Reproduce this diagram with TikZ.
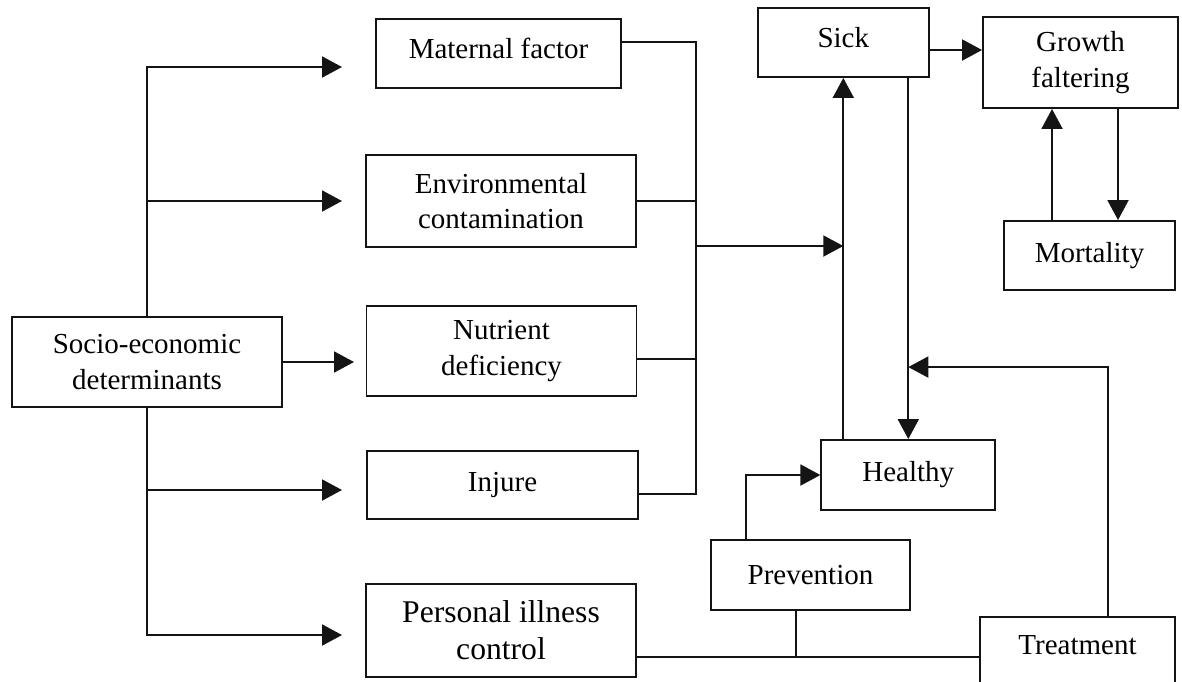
\documentclass[tikz,border=0pt]{standalone}
\usepackage{fontspec}
\setmainfont{Liberation Serif}
\usepackage{tikz}
\usetikzlibrary{calc,arrows.meta}
\definecolor{ink}{HTML}{141414}
\tikzset{
  box/.style={draw=ink, line width=1.1pt, rectangle, align=center, inner sep=2pt,
    font=\fontsize{16.5}{20}\selectfont},
  lnk/.style={draw=ink, line width=1.1pt},
  arr/.style={lnk, -{Triangle[length=0.4cm,width=0.42cm]}},
  lift/.style={text depth=0.2cm}
}

\begin{document}
\begin{tikzpicture}[x=0.02cm, y=-0.02cm]
  \useasboundingbox (0,0) rectangle (1182,681);
  \clip (0,0) rectangle (1182,681);

  % left column
  \node[box, minimum width=5.4cm, minimum height=1.8cm] (socio) at (147,362) {Socio-economic\\determinants};
  \node[box, lift, minimum width=4.9cm, minimum height=1.38cm] (maternal) at (498.5,53.5) {Maternal factor};
  \node[box, minimum width=5.4cm, minimum height=1.84cm] (environ) at (501,201) {Environmental\\contamination};
  \node[box, minimum width=5.4cm, minimum height=1.8cm] (nutrient) at (501.5,351) {Nutrient\\deficiency};
  \node[box, minimum width=5.42cm, minimum height=1.36cm] (injure) at (502.5,485) {Injure};
  \node[box, minimum width=5.4cm, minimum height=1.86cm, font=\fontsize{18}{21}\selectfont] (personal) at (501,630.5) {Personal illness\\control};

  % right part
  \node[box, lift, minimum width=3.42cm, minimum height=1.38cm] (sick) at (843.3,42.5) {Sick};
  \node[box, minimum width=3.9cm, minimum height=1.82cm] (growth) at (1080.5,62.5) {Growth\\faltering};
  \node[box, minimum width=3.42cm, minimum height=1.38cm] (mortality) at (1089.5,255.5) {Mortality};
  \node[box, minimum width=3.48cm, minimum height=1.4cm] (healthy) at (908.3,475) {Healthy};
  \node[box, minimum width=3.98cm, minimum height=1.4cm] (prevention) at (810.5,575) {Prevention};
  \node[box, text depth=0.48cm, minimum width=3.9cm, minimum height=1.6cm] (treatment) at (1077.5,657) {Treatment};

  % trunk from the determinants
  \coordinate (t1) at (342,67);
  \coordinate (t2) at (342,201);
  \coordinate (t3) at (354,362);
  \coordinate (t4) at (342,490);
  \coordinate (t5) at (342,635);
  \draw[arr] (socio.north) |- (t1);
  \draw[arr] (socio.north |- t2) -- (t2);
  \draw[arr] (socio.east) -- (t3);
  \draw[arr] (socio.south |- t4) -- (t4);
  \draw[arr] (socio.south) |- (t5);

  % collector into sick
  \coordinate (bus) at (696,246);
  \coordinate (mat) at ([yshift=0.23cm]maternal.east);
  \coordinate (nut) at ([yshift=-0.16cm]nutrient.east);
  \coordinate (inj) at ([yshift=-0.18cm]injure.east);
  \draw[lnk] (mat) -| (bus |- inj) -- (inj);
  \draw[lnk] (environ.east) -- (environ.east -| bus);
  \draw[lnk] (nut) -- (nut -| bus);
  \draw[arr] (bus) -- (bus -| sick.south);

  % sick / healthy loop
  \draw[arr] (healthy.north -| sick.south) -- (sick.south);
  \draw[arr] (sick.south -| healthy.north) -- (healthy.north);

  \coordinate (sg) at ([yshift=-0.15cm]sick.east);
  \draw[arr] (sg) -- (sg -| growth.west);

  \coordinate (mup) at ([xshift=-0.75cm]mortality.north);
  \coordinate (gdn) at ([xshift=0.75cm]growth.south);
  \draw[arr] (mup) -- (mup |- growth.south);
  \draw[arr] (gdn) -- (gdn |- mortality.north);

  % treatment and prevention
  \coordinate (trt) at ([xshift=0.61cm]treatment.north);
  \coordinate (tin) at ([yshift=1.44cm]healthy.north);
  \draw[arr] (trt) |- (tin);

  \coordinate (pup) at ([xshift=-1.29cm]prevention.north);
  \draw[arr] (pup) |- (healthy.west);

  \coordinate (pil) at ([yshift=-0.53cm]personal.east);
  \coordinate (pdn) at ([xshift=-0.29cm]prevention.south);
  \draw[lnk] (pil) -- (treatment.west);
  \draw[lnk] (pdn) -- (pdn |- treatment.west);
\end{tikzpicture}
\end{document}
